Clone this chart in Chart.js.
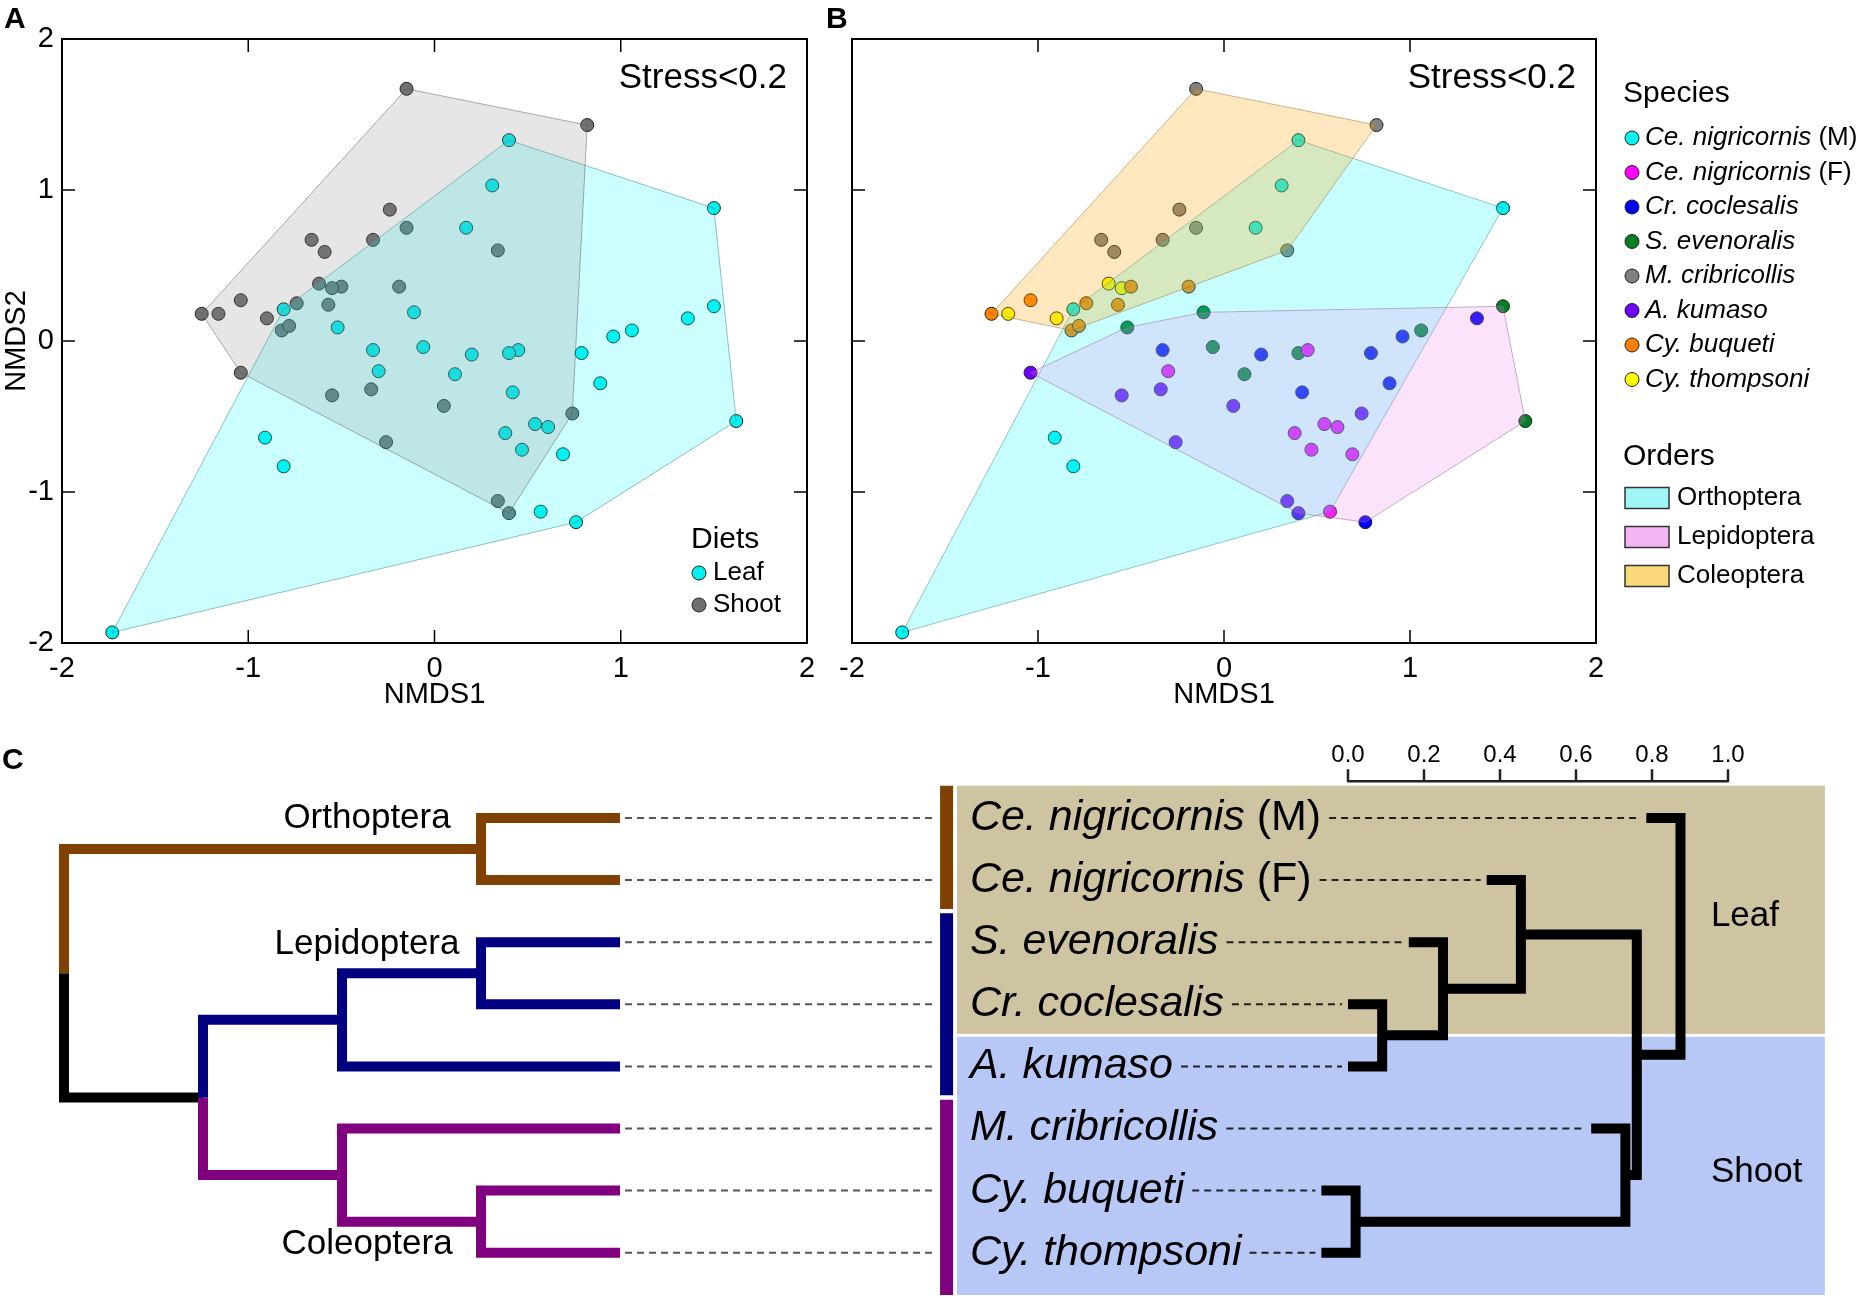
<!DOCTYPE html>
<html>
<head>
<meta charset="utf-8">
<title>NMDS of diets and dendrograms</title>
<script src="https://cdn.jsdelivr.net/npm/chart.js@4.4.1/dist/chart.umd.min.js"></script>
<style>
  body { margin: 0; background: #fff; }
  #page { position: relative; width: 1858px; height: 1298px; overflow: hidden; background: #fff; font-family: "Liberation Sans", Arial, sans-serif; }
  canvas { position: absolute; }
  .tag { position: absolute; font-weight: bold; font-size: 30px; line-height: 30px; z-index: 2; }
</style>
</head>
<body>
<div id="page">
  <canvas id="nmdsA" width="850" height="720" style="left:0;top:0"></canvas>
  <canvas id="nmdsB" width="1038" height="720" style="left:820px;top:0"></canvas>
  <canvas id="treeOrders" width="957" height="558" style="left:0;top:740px"></canvas>
  <canvas id="treeDiet" width="901" height="558" style="left:957px;top:740px"></canvas>
  <div class="tag" style="left:4px;top:3px">A</div>
  <div class="tag" style="left:826px;top:3px">B</div>
  <div class="tag" style="left:2px;top:744px">C</div>
</div>
<script>
Chart.defaults.font.family = '"Liberation Sans", Arial, sans-serif';
Chart.defaults.color = '#000';
Chart.defaults.plugins.legend.display = false;
Chart.defaults.plugins.tooltip.enabled = false;

const FONT = '"Liberation Sans", Arial, sans-serif';

// NMDS scores, one pair of arrays per species
const ceMaleX = [0.40, 0.31, 1.50, 0.17, -0.81, -0.91, -0.81, -1.73];
const ceMaleY = [1.33, 1.03, 0.88, 0.75, 0.21, -0.64, -0.83, -1.93];
const ceFemaleX = [-0.30, 0.45, 0.54, 0.61, 0.38, 0.47, 0.69, 0.57];
const ceFemaleY = [-0.20, -0.06, -0.55, -0.57, -0.61, -0.72, -0.75, -1.13];
const crX = [-0.33, 0.20, 0.42, 0.79, 0.89, 0.96, 1.36, 0.76];
const crY = [-0.06, -0.09, -0.34, -0.08, -0.28, 0.03, 0.15, -1.20];
const seX = [-0.52, -0.11, -0.06, 0.11, 0.40, 1.06, 1.50, 1.62];
const seY = [0.09, 0.19, -0.04, -0.22, -0.08, 0.07, 0.23, -0.53];
const mcX = [-0.15, 0.82, -0.66, -0.59, -0.33, -0.24, -0.15, 0.34];
const mcY = [1.67, 1.43, 0.67, 0.59, 0.67, 0.87, 0.75, 0.60];
const akX = [-1.04, -0.55, -0.34, -0.26, 0.05, 0.74, 0.34, 0.40];
const akY = [-0.21, -0.36, -0.32, -0.67, -0.43, -0.48, -1.06, -1.14];
const cybX = [-1.25, -1.04, -0.82, -0.78, -0.74, -0.50, -0.57, -0.19];
const cybY = [0.18, 0.27, 0.07, 0.10, 0.25, 0.36, 0.24, 0.36];
const cytX = [-1.16, -0.90, -0.62, -0.55];
const cytY = [0.18, 0.15, 0.38, 0.35];

const speciesNames = ['Ce. nigricornis (M)', 'Ce. nigricornis (F)', 'Cr. coclesalis', 'S. evenoralis',
  'M. cribricollis', 'A. kumaso', 'Cy. buqueti', 'Cy. thompsoni'];
const speciesX = [ceMaleX, ceFemaleX, crX, seX, mcX, akX, cybX, cytX];
const speciesY = [ceMaleY, ceFemaleY, crY, seY, mcY, akY, cybY, cytY];
const speciesColors = ['#00f4f4', '#ff00ff', '#0000ff', '#008020', '#808080', '#7000ff', '#ff8000', '#ffff00'];
const speciesDiet = ['Leaf', 'Leaf', 'Leaf', 'Leaf', 'Shoot', 'Shoot', 'Shoot', 'Shoot'];
const speciesOrder = ['Orthoptera', 'Orthoptera', 'Lepidoptera', 'Lepidoptera', 'Coleoptera', 'Lepidoptera', 'Coleoptera', 'Coleoptera'];

const diets = ['Leaf', 'Shoot'];
const dietPointColors = ['#00f0f0', '#707070'];
const dietHullColors = ['rgba(0,255,255,0.2)', 'rgba(128,128,128,0.2)'];
const dietHullEdges = ['rgba(60,140,140,0.55)', 'rgba(80,80,80,0.45)'];
const dietBoxColors = ['#cfc4a2', '#b8c8f6'];

const orders = ['Orthoptera', 'Lepidoptera', 'Coleoptera'];
const orderHullColors = ['rgba(0,255,255,0.22)', 'rgba(238,130,238,0.22)', 'rgba(255,165,0,0.25)'];
const orderHullEdges = ['rgba(60,140,140,0.5)', 'rgba(150,100,150,0.5)', 'rgba(150,120,60,0.5)'];
const orderSwatchColors = ['#a0f6f6', '#f4b4f4', '#f8d878'];
const orderTreeColors = ['#804000', '#000080', '#800080'];

// panel C: rows top to bottom, and merges in hclust style
// (negative = leaf row, 1-based; positive = earlier merge, 1-based)
const treeRows = ['Ce. nigricornis (M)', 'Ce. nigricornis (F)', 'S. evenoralis', 'Cr. coclesalis',
  'A. kumaso', 'M. cribricollis', 'Cy. buqueti', 'Cy. thompsoni'];
const phyloMergeA = [-1, -3, 2, -7, -6, 3, 1];
const phyloMergeB = [-2, -4, -5, -8, 4, 5, 6];
const phyloDepth = [3, 3, 2, 3, 2, 1, 0];
const phyloTipDepth = 4;
const dietMergeA = [-7, -4, -3, -2, -6, 4, -1];
const dietMergeB = [-8, -5, 2, 3, 1, 5, 6];
const dietHeight = [0.02, 0.09, 0.25, 0.455, 0.73, 0.76, 0.875];
const dietHang = 0.09;
const scaleBarTicks = [0, 0.2, 0.4, 0.6, 0.8, 1.0];

// ---------- helpers ----------
function pointsOf(idx) {
  return idx.flatMap(i => speciesX[i].map((x, k) => ({ x, y: speciesY[i][k] })));
}

function hull(pts) {
  const p = pts.slice().sort((a, b) => a.x - b.x || a.y - b.y);
  const cross = (o, a, b) => (a.x - o.x) * (b.y - o.y) - (a.y - o.y) * (b.x - o.x);
  const lower = [], upper = [];
  for (const q of p) {
    while (lower.length >= 2 && cross(lower[lower.length - 2], lower[lower.length - 1], q) <= 0) lower.pop();
    lower.push(q);
  }
  for (const q of p.slice().reverse()) {
    while (upper.length >= 2 && cross(upper[upper.length - 2], upper[upper.length - 1], q) <= 0) upper.pop();
    upper.push(q);
  }
  const h = lower.slice(0, -1).concat(upper.slice(0, -1));
  h.push(h[0]);
  return h;
}

function hullSet(pts, fillColor, edge) {
  return {
    type: 'line', data: hull(pts), backgroundColor: fillColor, borderColor: edge,
    borderWidth: 1, fill: 'shape', pointRadius: 0, tension: 0, order: 0
  };
}

function dotSet(pts, color) {
  return {
    type: 'scatter', data: pts, backgroundColor: color, borderColor: '#222',
    borderWidth: 1, pointRadius: 6.5, order: 1
  };
}

function drawSpecies(ctx, name, x, y, size) {
  const cut = name.indexOf(' (');
  const italic = cut < 0 ? name : name.slice(0, cut);
  const rest = cut < 0 ? '' : name.slice(cut);
  ctx.textAlign = 'left';
  ctx.font = 'italic ' + size + 'px ' + FONT;
  ctx.fillText(italic, x, y);
  let w = ctx.measureText(italic).width;
  if (rest) {
    ctx.font = size + 'px ' + FONT;
    ctx.fillText(rest, x + w, y);
    w += ctx.measureText(rest).width;
  }
  return x + w;
}

function nmdsScales(showY) {
  return {
    x: {
      type: 'linear', min: -2, max: 2,
      ticks: { stepSize: 1, padding: 9, font: { size: 29 }, color: '#000' },
      grid: { display: false, drawTicks: false },
      border: { display: false },
      title: { display: true, text: 'NMDS1', font: { size: 29 }, color: '#000', padding: { top: 0, bottom: 8 } },
      afterFit(s) { s.height = 77; s.paddingLeft = 0; s.paddingRight = 0; }
    },
    y: {
      type: 'linear', min: -2, max: 2, display: showY,
      ticks: { stepSize: 1, padding: 8, font: { size: 29 }, color: '#000' },
      grid: { display: false, drawTicks: false },
      border: { display: false },
      title: { display: true, text: 'NMDS2', font: { size: 29 }, color: '#000', padding: 0 },
      afterFit(s) { s.width = showY ? 62 : 0; s.paddingTop = 0; s.paddingBottom = 0; }
    }
  };
}

// box, inward ticks and stress note for the NMDS panels
const nmdsFrame = {
  id: 'nmdsFrame',
  afterDraw(chart) {
    const { ctx, chartArea: a, scales: { x, y } } = chart;
    ctx.save();
    ctx.strokeStyle = '#000';
    ctx.lineWidth = 2;
    ctx.strokeRect(a.left, a.top, a.width, a.height);
    ctx.lineWidth = 1.5;
    ctx.beginPath();
    x.ticks.forEach(t => {
      if (t.value <= x.min || t.value >= x.max) return;
      const p = x.getPixelForValue(t.value);
      ctx.moveTo(p, a.top); ctx.lineTo(p, a.top + 13);
      ctx.moveTo(p, a.bottom); ctx.lineTo(p, a.bottom - 13);
    });
    y.ticks.forEach(t => {
      if (t.value <= y.min || t.value >= y.max) return;
      const p = y.getPixelForValue(t.value);
      ctx.moveTo(a.left, p); ctx.lineTo(a.left + 13, p);
      ctx.moveTo(a.right, p); ctx.lineTo(a.right - 13, p);
    });
    ctx.stroke();
    ctx.fillStyle = '#000';
    ctx.font = '35px ' + FONT;
    ctx.textAlign = 'right';
    ctx.textBaseline = 'middle';
    ctx.fillText('Stress<0.2', a.right - 20, a.top + 39);
    ctx.restore();
  }
};

function legendDot(ctx, cx, cy, color) {
  ctx.beginPath();
  ctx.arc(cx, cy, 7, 0, Math.PI * 2);
  ctx.fillStyle = color;
  ctx.fill();
  ctx.lineWidth = 1;
  ctx.strokeStyle = '#222';
  ctx.stroke();
}

// ---------- panel A ----------
const leafIdx = speciesDiet.map((d, i) => d === 'Leaf' ? i : -1).filter(i => i >= 0);
const shootIdx = speciesDiet.map((d, i) => d === 'Shoot' ? i : -1).filter(i => i >= 0);

new Chart(document.getElementById('nmdsA'), {
  type: 'scatter',
  data: {
    datasets: [
      hullSet(pointsOf(shootIdx), dietHullColors[1], dietHullEdges[1]),
      hullSet(pointsOf(leafIdx), dietHullColors[0], dietHullEdges[0]),
      dotSet(pointsOf(leafIdx), dietPointColors[0]),
      dotSet(pointsOf(shootIdx), dietPointColors[1])
    ]
  },
  options: {
    responsive: false, animation: false, devicePixelRatio: 1, events: [],
    layout: { padding: { left: 0, right: 43, top: 39, bottom: 0 } },
    scales: nmdsScales(true)
  },
  plugins: [nmdsFrame, {
    id: 'dietLegend',
    afterDraw(chart) {
      const ctx = chart.ctx;
      ctx.save();
      ctx.textBaseline = 'middle';
      ctx.textAlign = 'left';
      ctx.fillStyle = '#000';
      ctx.font = '30px ' + FONT;
      ctx.fillText('Diets', 691, 540);
      diets.forEach((d, i) => {
        legendDot(ctx, 699, 573 + 32 * i, dietPointColors[i]);
        ctx.fillStyle = '#000';
        ctx.font = '26px ' + FONT;
        ctx.fillText(d, 713, 573 + 32 * i);
      });
      ctx.restore();
    }
  }]
});

// ---------- panel B ----------
const orderIdx = orders.map(o => speciesOrder.map((s, i) => s === o ? i : -1).filter(i => i >= 0));

new Chart(document.getElementById('nmdsB'), {
  type: 'scatter',
  data: {
    datasets: [
      hullSet(pointsOf(orderIdx[2]), orderHullColors[2], orderHullEdges[2]),
      hullSet(pointsOf(orderIdx[1]), orderHullColors[1], orderHullEdges[1]),
      hullSet(pointsOf(orderIdx[0]), orderHullColors[0], orderHullEdges[0])
    ].concat(speciesNames.map((n, i) => dotSet(pointsOf([i]), speciesColors[i])))
  },
  options: {
    responsive: false, animation: false, devicePixelRatio: 1, events: [],
    layout: { padding: { left: 32, right: 262, top: 39, bottom: 0 } },
    scales: nmdsScales(false)
  },
  plugins: [nmdsFrame, {
    id: 'speciesLegend',
    afterDraw(chart) {
      const ctx = chart.ctx;
      ctx.save();
      ctx.textBaseline = 'middle';
      ctx.textAlign = 'left';
      ctx.fillStyle = '#000';
      ctx.font = '30px ' + FONT;
      ctx.fillText('Species', 803, 94);
      speciesNames.forEach((n, i) => {
        const cy = 138 + 34.5 * i;
        legendDot(ctx, 812, cy, speciesColors[i]);
        ctx.fillStyle = '#000';
        drawSpecies(ctx, n, 825, cy, 26);
      });
      ctx.font = '30px ' + FONT;
      ctx.fillText('Orders', 803, 457);
      orders.forEach((o, i) => {
        const cy = 498 + 39 * i;
        ctx.fillStyle = orderSwatchColors[i];
        ctx.fillRect(805, cy - 10.5, 44, 21);
        ctx.strokeStyle = '#333';
        ctx.lineWidth = 1.5;
        ctx.strokeRect(805, cy - 10.5, 44, 21);
        ctx.fillStyle = '#000';
        ctx.font = '26px ' + FONT;
        ctx.fillText(o, 857, cy);
      });
      ctx.restore();
    }
  }]
});

// ---------- panel C ----------
function buildTree(mergeA, mergeB, heights, tipX) {
  const nodes = [], merges = [], tips = [];
  const get = (ref, h) => {
    if (ref < 0) {
      const r = -ref - 1;
      tips[r] = tipX(h);
      return { x: tips[r], y: r, rows: [r] };
    }
    return nodes[ref - 1];
  };
  heights.forEach((h, i) => {
    const a = get(mergeA[i], h), b = get(mergeB[i], h);
    const mid = (a.y + b.y) / 2;
    nodes.push({ x: h, y: mid, rows: a.rows.concat(b.rows) });
    merges.push({ a, b, h, mid });
  });
  return { merges, tips };
}

function branchSet(pts, color, width) {
  return {
    type: 'line', data: pts, borderColor: color, borderWidth: width, pointRadius: 0,
    fill: false, tension: 0, borderCapStyle: 'butt', borderJoinStyle: 'miter', clip: false
  };
}

const rowOrder = treeRows.map(n => speciesOrder[speciesNames.indexOf(n)]);
const rowDiet = treeRows.map(n => speciesDiet[speciesNames.indexOf(n)]);
const rowScale = { type: 'linear', reverse: true, min: -1.256, max: 7.729, display: false };
const rowEdgeTop = -0.52, rowEdgeBottom = 7.68;
function rowEdge(k) {
  return k === 0 ? rowEdgeTop : (k === treeRows.length ? rowEdgeBottom : k - 0.5);
}
function groupSpan(rows, gap) {
  const first = Math.min(...rows), last = Math.max(...rows);
  return [rowEdge(first) + (first > 0 ? gap : 0), rowEdge(last + 1) - (last + 1 < treeRows.length ? gap : 0)];
}

// left: order cladogram
const phylo = buildTree(phyloMergeA, phyloMergeB, phyloDepth, () => phyloTipDepth);
function cladeColor(rows) {
  const o = rowOrder[rows[0]];
  return rows.every(r => rowOrder[r] === o) ? orderTreeColors[orders.indexOf(o)] : '#000';
}
const phyloSets = [];
phylo.merges.forEach(m => {
  const ca = cladeColor(m.a.rows), cb = cladeColor(m.b.rows);
  const pa = [{ x: m.a.x, y: m.a.y }, { x: m.h, y: m.a.y }, { x: m.h, y: m.mid }];
  const pb = [{ x: m.b.x, y: m.b.y }, { x: m.h, y: m.b.y }, { x: m.h, y: m.mid }];
  if (ca === cb) {
    phyloSets.push(branchSet(pa.concat(pb.slice(0, 2).reverse()), ca, 10));
  } else {
    phyloSets.push(branchSet(pa, ca, 10));
    phyloSets.push(branchSet(pb, cb, 10));
  }
});
const linkFrom = 4.036, linkTo = 6.259, orderBarX = 6.349;
treeRows.forEach((n, r) => {
  const s = branchSet([{ x: linkFrom, y: r }, { x: linkTo, y: r }], '#555', 2);
  s.borderDash = [7, 5];
  phyloSets.push(s);
});
orders.forEach((o, i) => {
  const rows = rowOrder.map((ro, r) => ro === o ? r : -1).filter(r => r >= 0);
  const [y0, y1] = groupSpan(rows, 0.035);
  phyloSets.push(branchSet([{ x: orderBarX, y: y0 }, { x: orderBarX, y: y1 }], orderTreeColors[i], 13));
});

const cladeLabelRow = [0, 2.04, 6.86];
new Chart(document.getElementById('treeOrders'), {
  type: 'scatter',
  data: { datasets: phyloSets },
  options: {
    responsive: false, animation: false, devicePixelRatio: 1, events: [],
    layout: { padding: 0 },
    scales: { x: { type: 'linear', min: -0.4604, max: 6.424, display: false }, y: rowScale }
  },
  plugins: [{
    id: 'cladeLabels',
    afterDatasetsDraw(chart) {
      const { ctx, scales: { x, y } } = chart;
      ctx.save();
      ctx.fillStyle = '#000';
      ctx.font = '35px ' + FONT;
      ctx.textAlign = 'center';
      ctx.textBaseline = 'middle';
      orders.forEach((o, i) => ctx.fillText(o, x.getPixelForValue(2.18), y.getPixelForValue(cladeLabelRow[i])));
      ctx.restore();
    }
  }]
});

// right: diet-similarity dendrogram
const dietTree = buildTree(dietMergeA, dietMergeB, dietHeight, h => h - dietHang);
const dietSets = dietTree.merges.map(m => branchSet([
  { x: m.a.x, y: m.a.y }, { x: m.h, y: m.a.y }, { x: m.h, y: m.b.y }, { x: m.b.x, y: m.b.y }
], '#000', 10));

const boxRight = 1.255, labelLeft = -0.995, dietLabelX = 0.955, barRow = -0.59;
new Chart(document.getElementById('treeDiet'), {
  type: 'scatter',
  data: { datasets: dietSets },
  options: {
    responsive: false, animation: false, devicePixelRatio: 1, events: [],
    layout: { padding: 0 },
    scales: { x: { type: 'linear', min: -1.0289, max: 1.3421, display: false }, y: rowScale }
  },
  plugins: [{
    id: 'dietDecor',
    beforeDatasetsDraw(chart) {
      const { ctx, chartArea: a, scales: { x, y } } = chart;
      ctx.save();
      diets.forEach((d, i) => {
        const rows = rowDiet.map((rd, r) => rd === d ? r : -1).filter(r => r >= 0);
        const [y0, y1] = groupSpan(rows, 0.022);
        const top = y.getPixelForValue(y0), bottom = y.getPixelForValue(y1);
        ctx.fillStyle = dietBoxColors[i];
        ctx.fillRect(a.left, top, x.getPixelForValue(boxRight) - a.left, bottom - top);
        ctx.fillStyle = '#000';
        ctx.font = '35px ' + FONT;
        ctx.textAlign = 'left';
        ctx.textBaseline = 'middle';
        ctx.fillText(d, x.getPixelForValue(dietLabelX), y.getPixelForValue((y0 + y1) / 2 + 0.1));
      });
      ctx.restore();
    },
    afterDatasetsDraw(chart) {
      const { ctx, scales: { x, y } } = chart;
      ctx.save();
      ctx.textBaseline = 'middle';
      treeRows.forEach((n, r) => {
        const py = y.getPixelForValue(r);
        ctx.fillStyle = '#000';
        const end = drawSpecies(ctx, n, x.getPixelForValue(labelLeft), py, 43);
        ctx.beginPath();
        ctx.setLineDash([7, 5]);
        ctx.lineWidth = 2;
        ctx.strokeStyle = '#222';
        ctx.moveTo(end + 8, py);
        ctx.lineTo(x.getPixelForValue(dietTree.tips[r]) - 6, py);
        ctx.stroke();
        ctx.setLineDash([]);
      });
      // scale bar
      const by = y.getPixelForValue(barRow);
      ctx.strokeStyle = '#222';
      ctx.lineWidth = 2.5;
      ctx.beginPath();
      ctx.moveTo(x.getPixelForValue(scaleBarTicks[0]), by);
      ctx.lineTo(x.getPixelForValue(scaleBarTicks[scaleBarTicks.length - 1]), by);
      scaleBarTicks.forEach(t => {
        ctx.moveTo(x.getPixelForValue(t), by + 1);
        ctx.lineTo(x.getPixelForValue(t), by - 12);
      });
      ctx.stroke();
      ctx.fillStyle = '#000';
      ctx.font = '24px ' + FONT;
      ctx.textAlign = 'center';
      scaleBarTicks.forEach(t => ctx.fillText(t.toFixed(1), x.getPixelForValue(t), by - 26));
      ctx.restore();
    }
  }]
});
</script>
</body>
</html>
